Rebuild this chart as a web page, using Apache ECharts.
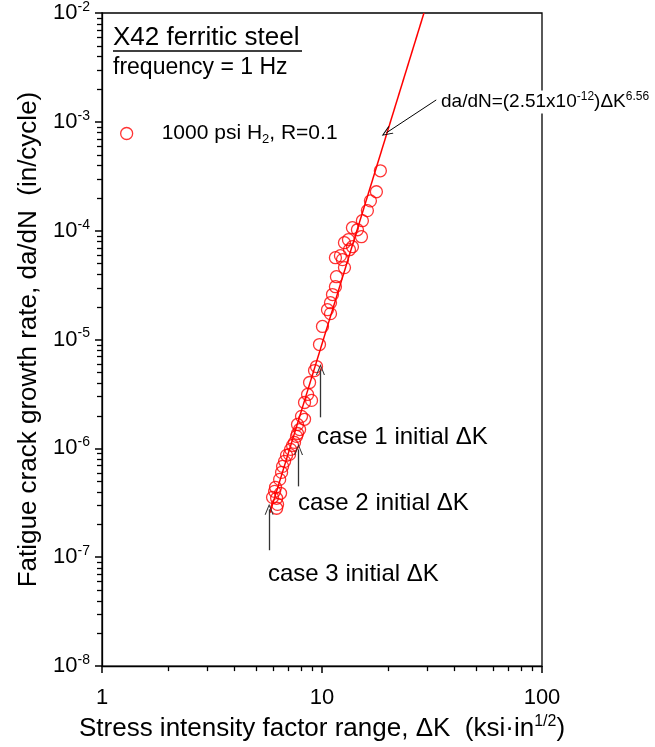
<!DOCTYPE html>
<html>
<head>
<meta charset="utf-8">
<script src="https://cdn.jsdelivr.net/npm/echarts@6/dist/echarts.min.js"></script>
<style>
html, body { margin: 0; padding: 0; background: #fff; }
#main { width: 655px; height: 747px; }
</style>
</head>
<body>
<div id="main"></div>
<script>
// 数据
var deltaK = [18.42, 17.67, 16.60, 16.08, 15.26, 13.75, 14.49, 15.11, 12.65, 13.19, 13.75, 13.33, 12.13, 11.51, 12.39, 12.65,
    11.63, 11.51, 11.16, 10.93, 10.59, 10.93, 10.05, 9.74, 9.44, 9.25, 8.78, 8.60, 8.96, 8.33, 8.07, 8.33,
    7.74, 7.91, 7.74, 7.66, 7.50, 7.35, 7.20, 7.12, 6.90, 6.76, 6.62, 6.55, 6.42, 6.09, 6.48, 5.96, 6.22, 6.28, 6.22, 6.15];
var dadN = [3.55e-4, 2.28e-4, 1.88e-4, 1.53e-4, 1.235e-4, 1.065e-4, 1.02e-4, 8.81e-5, 7.76e-5, 8.27e-5, 7.13e-5, 6.69e-5, 5.90e-5, 5.65e-5, 5.42e-5, 4.58e-5,
    3.78e-5, 3.06e-5, 2.59e-5, 2.18e-5, 1.88e-5, 1.73e-5, 1.32e-5, 9.0e-6, 5.65e-6, 5.19e-6, 4.03e-6, 3.13e-6, 2.76e-6, 2.64e-6, 1.97e-6, 1.85e-6,
    1.66e-6, 1.49e-6, 1.37e-6, 1.29e-6, 1.135e-6, 1.065e-6, 9.8e-7, 8.81e-7, 8.63e-7, 7.6e-7, 6.84e-7, 6.02e-7, 5.19e-7, 4.03e-7, 3.87e-7, 3.55e-7, 3.48e-7, 3.06e-7, 2.82e-7, 4.39e-7];

// 拟合线 da/dN = C * dK^m
var fitCoef = 2.51e-12;
var fitExp = 6.56;
var fitRangeK = [5.8, 29.07];

// 箭头 (数据坐标)
var eqArrow = [[33.06, 1.59e-3], [19.61, 7.93e-4]];
var caseArrows = [
    [[9.84, 1.93e-6], [9.84, 5.31e-6]],
    [[7.82, 4.48e-7], [7.82, 9.79e-7]],
    [[5.75, 1.16e-7], [5.75, 2.76e-7]]
];

// 坐标轴刻度
var xRange = [1, 100];
var yRange = [1e-8, 1e-2];
var xMinorTicks = [2, 3, 4, 5, 6, 7, 8, 9, 20, 30, 40, 50, 60, 70, 80, 90];
var yMinorTicks = [];
for (var e = -8; e < -2; e++) {
    for (var m = 2; m <= 9; m++) {
        yMinorTicks.push(m * Math.pow(10, e));
    }
}

var FONT = '"Liberation Sans", Arial, sans-serif';
var seriesName = '1000 psi H2, R=0.1';

var chart = echarts.init(document.getElementById('main'));

var fitData = fitRangeK.map(function (k) {
    return [k, fitCoef * Math.pow(k, fitExp)];
});
var pts = deltaK.map(function (k, i) { return [k, dadN[i]]; });

var chevron = 'path://M5,0 L10,10 L8.8,10 L5,2.2 L1.2,10 L0,10 Z';
var arrowLines = [
    [{coord: eqArrow[0], symbol: 'none', lineStyle: {color: '#000', width: 1, type: 'solid'}},
     {coord: eqArrow[1], symbol: chevron}]
];
caseArrows.forEach(function (a) {
    arrowLines.push([
        {coord: a[0], symbol: 'none', lineStyle: {color: '#333', width: 1.3, type: 'solid'}},
        {coord: a[1], symbol: chevron}
    ]);
});

var annotations = [
    {type: 'text', x: 113, y: 38, z: 100,
        style: {text: 'X42 ferritic steel', fontSize: 26, fontFamily: FONT, fill: '#000', verticalAlign: 'middle'}},
    {type: 'line', z: 100, shape: {x1: 113, y1: 51, x2: 302, y2: 51}, style: {stroke: '#000', lineWidth: 1.3}},
    {type: 'text', x: 113, y: 68, z: 100,
        style: {text: 'frequency = 1 Hz', fontSize: 23, fontFamily: FONT, fill: '#000', verticalAlign: 'middle'}},
    {type: 'text', x: 441, y: 102, z: 100,
        style: {
            text: 'da/dN=(2.51x10{sup|-12})\u0394K{sup|6.56}',
            fontSize: 19, fontFamily: FONT, fill: '#000', verticalAlign: 'middle',
            backgroundColor: '#fff',
            rich: {sup: {fontSize: 12, fontFamily: FONT, fill: '#000', padding: [0, 0, 11, 0]}}
        }},
    {type: 'text', x: 317, y: 437, z: 100,
        style: {text: 'case 1 initial \u0394K', fontSize: 24, fontFamily: FONT, fill: '#000', verticalAlign: 'middle'}},
    {type: 'text', x: 298, y: 503, z: 100,
        style: {text: 'case 2 initial \u0394K', fontSize: 24, fontFamily: FONT, fill: '#000', verticalAlign: 'middle'}},
    {type: 'text', x: 268, y: 574, z: 100,
        style: {text: 'case 3 initial \u0394K', fontSize: 24, fontFamily: FONT, fill: '#000', verticalAlign: 'middle'}}
];

var option = {
    animation: false,
    textStyle: {fontFamily: FONT},
    grid: {
        left: 102, right: 113, top: 13, bottom: 80,
        show: true, borderColor: '#000', borderWidth: 1.3
    },
    legend: {
        left: 115, top: 118,
        itemWidth: 12, itemHeight: 12,
        data: [{
            name: seriesName, icon: 'circle',
            itemStyle: {color: 'rgba(0,0,0,0)', borderColor: '#ff0000', borderWidth: 1.3}
        }],
        formatter: function () { return '1000 psi H{sub|2}, R=0.1'; },
        textStyle: {
            fontSize: 21, color: '#000', fontFamily: FONT, padding: [0, 0, 0, 24],
            rich: {sub: {fontSize: 13, fontFamily: FONT, color: '#000', padding: [12, 0, 0, 0]}}
        }
    },
    xAxis: {
        type: 'log', logBase: 10, min: xRange[0], max: xRange[1],
        axisLine: {show: true, onZero: false, lineStyle: {color: '#000', width: 1.3}},
        axisTick: {show: true, inside: false, length: 7, lineStyle: {color: '#000', width: 1.5}},
        axisLabel: {fontSize: 22, color: '#000', margin: 21, fontFamily: FONT},
        splitLine: {show: false},
        name: 'Stress intensity factor range, \u0394K  (ksi\u00b7in{sup|1/2})',
        nameLocation: 'middle', nameGap: 38,
        nameTextStyle: {
            fontSize: 26, color: '#000', fontFamily: FONT,
            rich: {sup: {fontSize: 16, color: '#000', fontFamily: FONT, padding: [0, 0, 14, 0]}}
        }
    },
    yAxis: {
        type: 'log', logBase: 10, min: yRange[0], max: yRange[1], splitNumber: 6,
        axisLine: {show: true, onZero: false, lineStyle: {color: '#000', width: 1.3}},
        axisTick: {show: true, inside: false, length: 7, lineStyle: {color: '#000', width: 1.5}},
        axisLabel: {
            fontSize: 22, color: '#000', margin: 12, fontFamily: FONT,
            formatter: function (v) {
                return '10{sup|' + Math.round(Math.log10(v)) + '}';
            },
            rich: {sup: {fontSize: 14, color: '#000', fontFamily: FONT, padding: [0, 0, 12, 0]}}
        },
        splitLine: {show: false},
        name: 'Fatigue crack growth rate, da/dN  (in/cycle)',
        nameLocation: 'middle', nameGap: 56, nameRotate: 90,
        nameTextStyle: {fontSize: 26, color: '#000', fontFamily: FONT}
    },
    series: [
        {
            name: 'fit',
            type: 'line',
            data: fitData,
            symbol: 'none',
            z: 3,
            lineStyle: {color: '#ff0000', width: 1.5},
            markLine: {
                silent: true,
                animation: false,
                symbolSize: [9, 11],
                lineStyle: {type: 'solid'},
                label: {show: false},
                emphasis: {disabled: true},
                data: arrowLines
            }
        },
        {
            name: seriesName,
            type: 'scatter',
            data: pts,
            symbol: 'circle',
            symbolSize: 12,
            z: 4,
            itemStyle: {color: 'rgba(0,0,0,0)', borderColor: '#ff0000', borderWidth: 1.3}
        }
    ],
    graphic: annotations
};

chart.setOption(option);

// 次刻度: 用坐标轴换算位置
var x0 = chart.convertToPixel({xAxisIndex: 0}, xRange[0]);
var y0 = chart.convertToPixel({yAxisIndex: 0}, yRange[0]);
var ticks = [];
xMinorTicks.forEach(function (v) {
    var px = Math.round(chart.convertToPixel({xAxisIndex: 0}, v)) + 0.5;
    ticks.push({type: 'line', z: 50, shape: {x1: px, y1: y0, x2: px, y2: y0 + 5},
        style: {stroke: '#000', lineWidth: 1.3}});
});
yMinorTicks.forEach(function (v) {
    var py = Math.round(chart.convertToPixel({yAxisIndex: 0}, v)) + 0.5;
    ticks.push({type: 'line', z: 50, shape: {x1: x0, y1: py, x2: x0 - 5, y2: py},
        style: {stroke: '#000', lineWidth: 1.3}});
});

chart.setOption({graphic: annotations.concat(ticks)});
</script>
</body>
</html>
